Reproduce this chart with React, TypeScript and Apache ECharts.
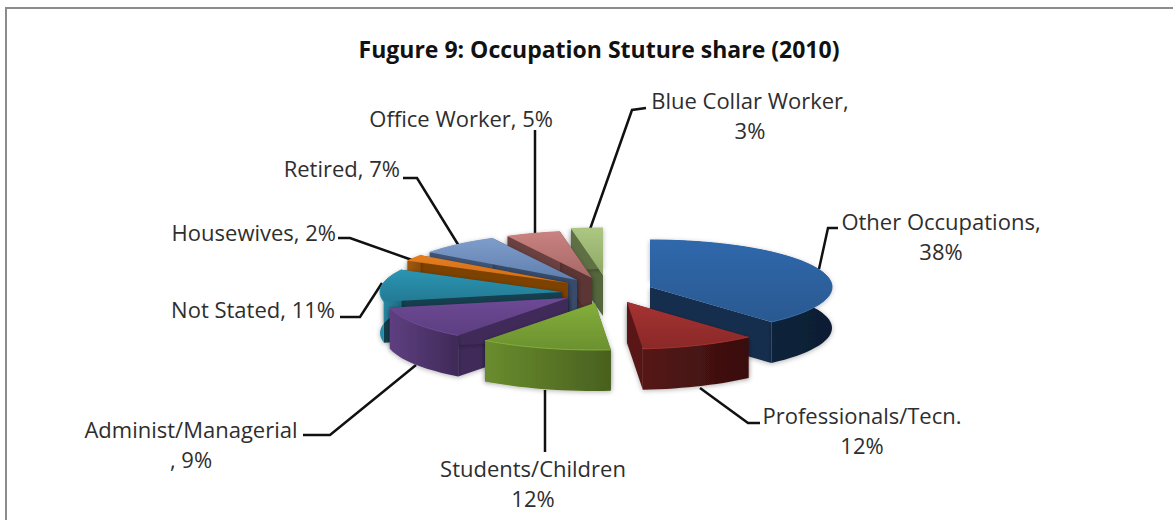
import React, { useEffect, useRef } from "react";
import * as echarts from "echarts";

const titleText = "Fugure 9: Occupation Stuture share (2010)";
const categories = [
  "Other Occupations", "Professionals/Tecn.", "Students/Children", "Administ/Managerial", "Not Stated",
  "Housewives", "Retired", "Office Worker", "Blue Collar Worker",
];
const shares = [38, 12, 12, 9, 11, 2, 7, 5, 3];
const labelTexts = [
  "Other Occupations,\n38%", "Professionals/Tecn.\n12%", "Students/Children\n12%", "Administ/Managerial\n, 9%",
  "Not Stated, 11%", "Housewives, 2%", "Retired, 7%", "Office Worker, 5%", "Blue Collar Worker,\n3%",
];

// presentation only
const drawOrder = [8, 7, 6, 5, 4, 3, 0, 1, 2];
const explode = [[50, -3], [27, 12], [-5, 13], [-32, 8], [-38, 2], [-32, -7], [-23, -10], [-8, -12], [3, -15]];
const topColors = [
  ["#2F68AC", "#2A5990"], ["#A63332", "#8A2828"], ["#83AE3A", "#6C9130"], ["#6E4A96", "#5C3E80"], ["#2B95B2", "#237A94"],
  ["#E57D1E", "#D06E18"], ["#7F9DCB", "#5F7FAE"], ["#C98280", "#A66866"], ["#ADC782", "#8DA866"],
];
const innerWall = ["#162D4E", "#5A1818", "#55702A", "#3F2A5A", "#123F50", "#7E4306", "#394B6B", "#5C3636", "#54663C"];
const outerWall = [
  ["#152B48", "#0E1E33"], ["#571717", "#380E0E"], ["#6A8C2E", "#48601E"], ["#5E3F80", "#3F2A58"], ["#2A8DA8", "#1D6A80"],
  ["#A05A0A", "#8A4A08"], ["#3F5578", "#3F5578"], ["#6B4040", "#6B4040"], ["#5E7044", "#5E7044"],
];
const labelPos: [number, number, string][] = [
  [941, 236, "center"], [862, 430, "center"], [533, 483, "center"], [191, 444, "center"], [335, 309, "right"],
  [336, 232, "right"], [400, 168, "right"], [553, 118, "right"], [750, 115, "center"],
];
const leaders = [
  [[819, 269], [828, 228], [838, 228]],
  [[700, 388], [748, 423], [760, 423]],
  [[545, 390], [545, 452]],
  [[416, 365], [330, 435], [303, 435]],
  [[382, 283], [360, 317], [340, 317]],
  [[412, 260], [350, 238], [338, 238]],
  [[459, 246], [417, 178], [403, 178]],
  [[535, 236], [535, 130]],
  [[589, 232], [632, 110], [646, 108]],
];
const CX = 600, CY = 290, RX = 182, RY = 47, DEPTH = 41;
const FONT = "'Open Sans', 'Noto Sans', sans-serif";

// the reference's perspective bends the angles a little on screen
function warp(deg: number) {
  if (deg > 138 && deg < 258) {
    const u = (deg - 138) / 120;
    return deg - 16.5 * u * (1 - u) * (1 + 2.13 * u);
  }
  if (deg > 298) return deg + 1.5 * Math.sin((Math.PI * (deg - 298)) / 62);
  return deg;
}
function rim(deg: number) {
  const r = (warp(deg) * Math.PI) / 180;
  return [RX * Math.sin(r), -RY * Math.cos(r)];
}
function grad(c: string[], horizontal: boolean) {
  return new echarts.graphic.LinearGradient(0, 0, horizontal ? 1 : 0, horizontal ? 0 : 1, [
    { offset: 0, color: c[0] },
    { offset: 1, color: c[1] },
  ]);
}

export default function App() {
  const ref = useRef<HTMLDivElement>(null);
  useEffect(() => {
    const chart = echarts.init(ref.current!, null, { renderer: "svg" });
    const total = shares.reduce((a, b) => a + b, 0);
    let acc = 0;
    const rows = shares.map((v, i) => {
      const row = [v, acc, total, i];
      acc += v;
      return row;
    });
    const renderItem = (_: any, api: any) => {
      const v = api.value(0), before = api.value(1), tot = api.value(2), i = api.value(3);
      const a0 = (before / tot) * 360, a1 = ((before + v) / tot) * 360;
      const ax = CX + explode[i][0], ay = CY + explode[i][1];
      const arc: number[][] = [];
      const n = Math.max(4, Math.ceil((a1 - a0) / 3));
      for (let k = 0; k <= n; k++) {
        const p = rim(a0 + ((a1 - a0) * k) / n);
        arc.push([ax + p[0], ay + p[1]]);
      }
      const down = (p: number[]) => [p[0], p[1] + DEPTH];
      const first = arc[0], last = arc[arc.length - 1];
      const shadow = { shadowBlur: 5, shadowColor: "rgba(0,0,0,0.3)", shadowOffsetY: 1 };
      const children: any[] = [
        { type: "polygon", shape: { points: [[ax, ay], first, down(first), [ax, ay + DEPTH]] }, style: { fill: innerWall[i], ...shadow } },
        { type: "polygon", shape: { points: [[ax, ay], last, down(last), [ax, ay + DEPTH]] }, style: { fill: innerWall[i], ...shadow } },
        { type: "polygon", shape: { points: [...arc, ...arc.slice().reverse().map(down)] }, style: { fill: grad(outerWall[i], true), ...shadow } },
        { type: "polygon", shape: { points: [[ax, ay], ...arc] }, style: { fill: grad(topColors[i], false) } },
        { type: "polyline", shape: { points: arc }, style: { fill: "none", stroke: topColors[i][0], lineWidth: 1 } },
      ];
      return { type: "group", children };
    };
    const graphic: any[] = [
      { type: "polyline", shape: { points: [[6, 520], [6, 8], [1173, 8]] }, style: { fill: "none", stroke: "#8C8C8C", lineWidth: 2 } },
      ...leaders.map((pts) => ({ type: "polyline", shape: { points: pts }, style: { fill: "none", stroke: "#111", lineWidth: 2.5 } })),
      ...labelTexts.map((t, i) => ({
        type: "text",
        style: {
          text: t, x: labelPos[i][0], y: labelPos[i][1], align: labelPos[i][2], verticalAlign: "middle",
          font: `22px ${FONT}`, lineHeight: 30, fill: "#2e2e2e",
        },
      })),
    ];
    chart.setOption({
      animation: false,
      backgroundColor: "#fff",
      title: {
        text: titleText, left: 594, top: 32, textAlign: "center",
        textStyle: { fontFamily: FONT, fontSize: 23, fontWeight: "bold", color: "#111" },
      },
      graphic,
      series: [{ type: "custom", coordinateSystem: "none", name: categories.join("|"), silent: true, renderItem, data: drawOrder.map((k) => rows[k]) }],
    });
    return () => chart.dispose();
  }, []);
  return <div ref={ref} style={{ position: "fixed", left: 0, top: 0, width: 1173, height: 520 }} />;
}
